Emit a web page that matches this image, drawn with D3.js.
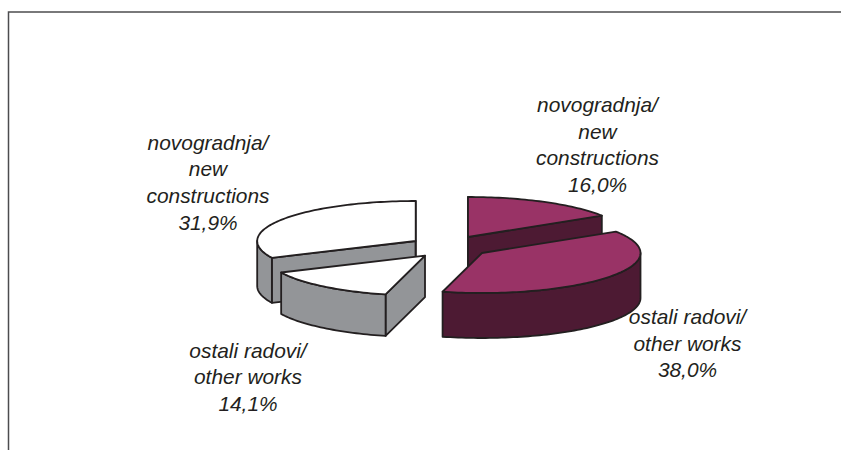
<!DOCTYPE html>
<html>
<head>
<meta charset="utf-8">
<style>
  html, body { margin: 0; padding: 0; background: #fff; }
  svg { display: block; }
  text { font-family: "Liberation Sans", Arial, sans-serif; font-style: italic; font-size: 20.9px; fill: #231f20; }
</style>
</head>
<body>
<svg></svg>
<script src="https://cdn.jsdelivr.net/npm/d3@7"></script>
<script>
let categories = ['novogradnja/new constructions', 'ostali radovi/other works', 'ostali radovi/other works', 'novogradnja/new constructions']
let values = [16.0, 38.0, 14.1, 31.9]
let valueLabels = ['16,0%', '38,0%', '14,1%', '31,9%']
let labelLines = [
    ['novogradnja/', 'new', 'constructions'],
    ['ostali radovi/', 'other works'],
    ['ostali radovi/', 'other works'],
    ['novogradnja/', 'new', 'constructions']
]

let width = 841
let height = 450
let radiusX = 158.5
let radiusY = 40

// where each slice's tip ends up once the pie is pulled apart
let tips = [[468, 237], [482, 253], [425, 255.7], [415.7, 241]]
let depths = [45, 45, 41.5, 45]
let labelSpots = [[597.5, 112], [687.5, 324], [248, 357.5], [208, 149.5]]
let tops = ['#993366', '#993366', '#ffffff', '#ffffff']
let sides = ['#4d1a33', '#4d1a33', '#939598', '#939598']
let drawOrder = [3, 0, 2, 1]

let svg = d3.select('svg').attr('width', width).attr('height', height)

let xScale = d3.scaleLinear().domain([-1, 1]).range([-radiusX, radiusX])
let yScale = d3.scaleLinear().domain([-1, 1]).range([radiusY, -radiusY])

let slices = d3.pie().sort(null)(values)

// angle 0 is twelve o'clock, going clockwise, same as d3.pie
let rim = (tip, angle, drop) => [
    tip[0] + xScale(Math.sin(angle)),
    tip[1] + yScale(Math.cos(angle)) + drop
]

let rimPoints = (tip, from, to, drop) => {
    let steps = Math.max(2, Math.ceil((to - from) * 40))
    return d3.range(steps + 1).map(i => rim(tip, from + (to - from) * i / steps, drop))
}

let line = d3.line()

let drawFrame = () => {
    svg.append('path')
       .attr('d', line([[8.5, 450], [8.5, 12], [841, 12]]))
       .attr('fill', 'none')
       .attr('stroke', '#4d4d4f')
       .attr('stroke-width', 1.5)
}

let drawSlice = (index) => {
    let slice = slices[index]
    let tip = tips[index]
    let depth = depths[index]
    let g = svg.append('g')
               .attr('class', 'slice')
               .attr('data-name', categories[index])

    let addShape = (points, fill) => {
        g.append('path')
         .attr('d', line(points) + 'Z')
         .attr('fill', fill)
         .attr('stroke', '#231f20')
         .attr('stroke-width', 1.8)
         .attr('stroke-linejoin', 'round')
    }

    let addFace = (angle) => {
        let a = rim(tip, angle, 0)
        addShape([tip, a, [a[0], a[1] + depth], [tip[0], tip[1] + depth]], sides[index])
    }

    // cut faces, the ones at twelve o'clock are seen edge on
    if (Math.sin(slice.startAngle) < 1e-9) addFace(slice.startAngle)
    if (Math.sin(slice.endAngle) > -1e-9) addFace(slice.endAngle)

    // outer wall, only the part facing front
    let from = Math.max(slice.startAngle, Math.PI / 2)
    let to = Math.min(slice.endAngle, Math.PI * 1.5)
    if (from < to) {
        let upper = rimPoints(tip, from, to, 0)
        let lower = rimPoints(tip, from, to, depth).reverse()
        addShape(upper.concat(lower), sides[index])
    }

    addShape([tip].concat(rimPoints(tip, slice.startAngle, slice.endAngle, 0)), tops[index])
}

let drawLabels = () => {
    labelLines.forEach((lines, index) => {
        let t = svg.append('text')
                   .attr('text-anchor', 'middle')
                   .attr('x', labelSpots[index][0])
                   .attr('y', labelSpots[index][1])
        lines.concat(valueLabels[index]).forEach((s, i) => {
            t.append('tspan')
             .attr('x', labelSpots[index][0])
             .attr('dy', i === 0 ? 0 : 26.7)
             .text(s)
        })
    })
}

drawFrame()
drawOrder.forEach(drawSlice)
drawLabels()
</script>
</body>
</html>
